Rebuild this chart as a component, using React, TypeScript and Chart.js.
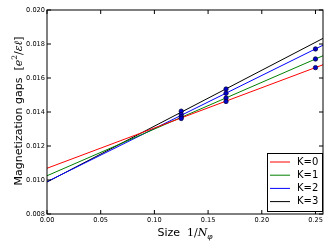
import React, { useEffect, useRef } from "react";
import { Chart, registerables } from "chart.js";

Chart.register(...registerables);

// ---- data ----
const seriesLabels = ["K=0", "K=1", "K=2", "K=3"];
const seriesColors = ["#ff0000", "#008000", "#0000ff", "#000000"];

// measured gaps vs 1/N_phi
const sizesK0 = [0.125, 0.1667, 0.25];
const gapsK0 = [0.01362, 0.01462, 0.01661];
const sizesK1 = [0.125, 0.1667, 0.25];
const gapsK1 = [0.01372, 0.01482, 0.01712];
const sizesK2 = [0.125, 0.1667, 0.25];
const gapsK2 = [0.01385, 0.0151, 0.01771];
const sizesK3 = [0.125, 0.1667];
const gapsK3 = [0.01405, 0.01535];

// linear extrapolation lines (read at the left and right edges)
const fitX = [0, 0.257];
const fitK0 = [0.01069, 0.01678];
const fitK1 = [0.01025, 0.01731];
const fitK2 = [0.0099, 0.01793];
const fitK3 = [0.00988, 0.01833];

const xTicks = [0, 0.05, 0.1, 0.15, 0.2, 0.25];
const xTickLabels = ["0.00", "0.05", "0.10", "0.15", "0.20", "0.25"];
const yTicks = [0.008, 0.01, 0.012, 0.014, 0.016, 0.018, 0.02];
const yTickLabels = ["0.008", "0.010", "0.012", "0.014", "0.016", "0.018", "0.020"];

const pointSizes = [sizesK0, sizesK1, sizesK2, sizesK3];
const pointGaps = [gapsK0, gapsK1, gapsK2, gapsK3];
const fits = [fitK0, fitK1, fitK2, fitK3];

const SANS = "'DejaVu Sans', sans-serif";
const SERIF = "'DejaVu Serif', serif";

type Part = { t: string; font: string; dy?: number };

function drawParts(ctx: CanvasRenderingContext2D, parts: Part[], cx: number) {
  let total = 0;
  for (const p of parts) {
    ctx.font = p.font;
    total += ctx.measureText(p.t).width;
  }
  let x = cx - total / 2;
  for (const p of parts) {
    ctx.font = p.font;
    ctx.fillText(p.t, x, p.dy || 0);
    x += ctx.measureText(p.t).width;
  }
}

const decorPlugin = {
  id: "decor",
  afterDraw(chart: any) {
    const { ctx, chartArea: a, scales } = chart;
    ctx.save();
    // frame
    ctx.strokeStyle = "#000";
    ctx.lineWidth = 1;
    ctx.strokeRect(a.left, a.top, a.right - a.left, a.bottom - a.top);
    // inward ticks on all sides
    ctx.beginPath();
    for (const v of xTicks) {
      const px = scales.x.getPixelForValue(v);
      ctx.moveTo(px, a.bottom);
      ctx.lineTo(px, a.bottom - 4);
      ctx.moveTo(px, a.top);
      ctx.lineTo(px, a.top + 4);
    }
    for (const v of yTicks) {
      const py = scales.y.getPixelForValue(v);
      ctx.moveTo(a.left, py);
      ctx.lineTo(a.left + 4, py);
      ctx.moveTo(a.right, py);
      ctx.lineTo(a.right - 4, py);
    }
    ctx.stroke();

    // legend
    const bx = a.right - 56;
    const by = a.bottom - 61;
    const bw = 55;
    const bh = 58;
    ctx.fillStyle = "#fff";
    ctx.fillRect(bx, by, bw, bh);
    ctx.strokeStyle = "#000";
    ctx.strokeRect(bx + 0.5, by + 0.5, bw, bh);
    ctx.font = `10px ${SANS}`;
    ctx.textBaseline = "middle";
    ctx.textAlign = "left";
    seriesLabels.forEach((lab, i) => {
      const ry = by + 9 + i * 13.2;
      ctx.strokeStyle = seriesColors[i];
      ctx.beginPath();
      ctx.moveTo(bx + 3, ry);
      ctx.lineTo(bx + 23, ry);
      ctx.stroke();
      ctx.fillStyle = "#000";
      ctx.fillText(lab, bx + 30, ry);
    });

    // axis titles
    ctx.fillStyle = "#000";
    ctx.textBaseline = "alphabetic";
    ctx.save();
    ctx.translate(0, 236);
    drawParts(
      ctx,
      [
        { t: "Size  ", font: `11px ${SANS}` },
        { t: "1/", font: `11px ${SERIF}` },
        { t: "N", font: `italic 11px ${SERIF}` },
        { t: "\u03c6", font: `italic 7.5px ${SERIF}`, dy: 2.5 },
      ],
      (a.left + a.right) / 2
    );
    ctx.restore();

    ctx.save();
    ctx.translate(21.5, (a.top + a.bottom) / 2 - 1);
    ctx.rotate(-Math.PI / 2);
    drawParts(
      ctx,
      [
        { t: "Magnetization gaps  ", font: `11px ${SANS}` },
        { t: "[", font: `11px ${SERIF}` },
        { t: "e", font: `italic 11px ${SERIF}` },
        { t: "2", font: `7.5px ${SERIF}`, dy: -5 },
        { t: "/", font: `11px ${SERIF}` },
        { t: "\u03b5\u2113", font: `italic 11px ${SERIF}` },
        { t: "]", font: `11px ${SERIF}` },
      ],
      0
    );
    ctx.restore();
    ctx.restore();
  },
};

export default function App() {
  const ref = useRef<HTMLCanvasElement | null>(null);

  useEffect(() => {
    if (!ref.current) return;
    const datasets: any[] = [];
    seriesLabels.forEach((lab, i) => {
      datasets.push({
        type: "line",
        label: lab,
        data: fitX.map((x, j) => ({ x, y: fits[i][j] })),
        borderColor: seriesColors[i],
        borderWidth: 1,
        pointRadius: 0,
        fill: false,
        order: 2,
      });
    });
    seriesLabels.forEach((lab, i) => {
      datasets.push({
        type: "scatter",
        label: lab + " data",
        data: pointSizes[i].map((x, j) => ({ x, y: pointGaps[i][j] })),
        backgroundColor: "#0000cc",
        borderColor: "#000033",
        borderWidth: 0.7,
        pointRadius: 2.2,
        showLine: false,
        order: 1,
      });
    });

    const chart = new Chart(ref.current, {
      type: "line",
      data: { datasets },
      options: {
        responsive: false,
        animation: false,
        layout: { padding: { left: 0, top: 10, right: 9, bottom: 0 } },
        plugins: { legend: { display: false }, tooltip: { enabled: false } },
        scales: {
          x: {
            type: "linear",
            min: 0,
            max: 0.257,
            grid: { display: false, drawTicks: false },
            border: { display: false },
            afterBuildTicks: (s: any) => {
              s.ticks = xTicks.map((v) => ({ value: v }));
            },
            afterFit: (s: any) => {
              s.height = 35;
            },
            ticks: {
              padding: 2,
              maxRotation: 0,
              color: "#000",
              font: { family: SANS, size: 6.6 },
              callback: (_v: any, i: number) => xTickLabels[i],
            },
          },
          y: {
            type: "linear",
            min: 0.008,
            max: 0.02,
            grid: { display: false, drawTicks: false },
            border: { display: false },
            afterBuildTicks: (s: any) => {
              s.ticks = yTicks.map((v) => ({ value: v }));
            },
            afterFit: (s: any) => {
              s.width = 47;
            },
            ticks: {
              padding: 2,
              color: "#000",
              font: { family: SANS, size: 6.6 },
              callback: (_v: any, i: number) => yTickLabels[i],
            },
          },
        },
      },
      plugins: [decorPlugin],
    } as any);
    return () => chart.destroy();
  }, []);

  return (
    <div style={{ position: "absolute", left: 0, top: 0, width: 332, height: 249, background: "#fff" }}>
      <canvas ref={ref} width={332} height={249} style={{ width: 332, height: 249, display: "block" }} />
    </div>
  );
}
